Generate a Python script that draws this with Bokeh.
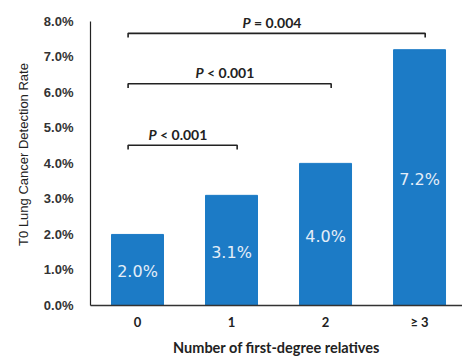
from bokeh.plotting import figure
from bokeh.models import Range1d, FixedTicker, NumeralTickFormatter, ColumnDataSource
from bokeh.core.properties import value
from bokeh.embed import file_html
from bokeh.resources import INLINE

# data
categories = ["0", "1", "2", "≥ 3"]
rates = [0.020, 0.031, 0.040, 0.072]
rate_labels = ["2.0%", "3.1%", "4.0%", "7.2%"]
y_ticks = [0.0, 0.01, 0.02, 0.03, 0.04, 0.05, 0.06, 0.07, 0.08]

# comparisons (from group index, to group index, bracket level, label)
cmp_from = [0, 0, 0]
cmp_to = [3, 2, 1]
cmp_level = [0.0766, 0.0624, 0.0451]
cmp_rest = ["\u00a0=\u00a00.004", "\u00a0<\u00a00.001", "\u00a0<\u00a00.001"]

xs = list(range(len(categories)))

p = figure(width=462, height=358, output_backend="svg", toolbar_location=None,
           x_range=Range1d(-0.5, 3.457), y_range=Range1d(0, 0.085),
           min_border_left=90, min_border_right=0, min_border_top=3,
           min_border_bottom=53)
p.outline_line_color = None
p.xgrid.grid_line_color = None
p.ygrid.grid_line_color = None
p.background_fill_color = "white"

bar_color = "#1c7bc6"
src = ColumnDataSource(dict(x=xs, top=rates, mid=[r / 2 for r in rates], lab=rate_labels))
p.vbar(x="x", top="top", width=0.553, source=src, fill_color=bar_color, line_color=bar_color)
p.text(x="x", y="mid", text="lab", source=src, text_align="center", text_baseline="middle",
       text_color="#e4eef8", text_font=value("DejaVu Sans"), text_font_size="16px", y_offset=2)

# brackets
tick_len = 0.0012
bx, by = [], []
for f, t, lv in zip(cmp_from, cmp_to, cmp_level):
    x0 = f - 0.1
    x1 = t + 0.06
    bx.append([x0, x0, x1, x1])
    by.append([lv - tick_len, lv, lv, lv - tick_len])
p.multi_line(bx, by, line_color="#222222", line_width=1.6)

cx = [((f - 0.1) + (t + 0.06)) / 2 for f, t in zip(cmp_from, cmp_to)]
ly = [lv + 0.0031 for lv in cmp_level]
lsrc = ColumnDataSource(dict(x=cx, y=ly, rest=cmp_rest, P=["P"] * len(cx)))
p.text(x="x", y="y", text="rest", source=lsrc, text_align="left", text_baseline="middle",
       x_offset=-26, text_color="#222222", text_font=value("Lato"), text_font_size="14px",
       text_font_style="bold")
p.text(x="x", y="y", text="P", source=lsrc, text_align="right", text_baseline="middle",
       x_offset=-26, text_color="#222222", text_font=value("Lato"), text_font_size="14px",
       text_font_style="bold italic")

# axes
p.xaxis.ticker = FixedTicker(ticks=xs)
p.xaxis.major_label_overrides = {i: c for i, c in enumerate(categories)}
p.xaxis.major_tick_line_color = None
p.xaxis.minor_tick_line_color = None
p.xaxis.major_tick_out = 0
p.xaxis.axis_line_color = "#333333"
p.xaxis.axis_line_width = 1.5
p.xaxis.major_label_standoff = 8
p.xaxis.major_label_text_font = "Lato"
p.xaxis.major_label_text_font_style = "bold"
p.xaxis.major_label_text_font_size = "13px"
p.xaxis.major_label_text_color = "#222222"
p.xaxis.axis_label = "Number of first-degree relatives"
p.xaxis.axis_label_text_font = "Lato"
p.xaxis.axis_label_text_font_style = "bold"
p.xaxis.axis_label_text_font_size = "14.5px"
p.xaxis.axis_label_text_color = "#222222"
p.xaxis.axis_label_standoff = 6

p.yaxis.ticker = FixedTicker(ticks=y_ticks)
p.yaxis.formatter = NumeralTickFormatter(format="0.0%")
p.yaxis.bounds = (0, 0.08)
p.yaxis.major_tick_line_color = None
p.yaxis.minor_tick_line_color = None
p.yaxis.major_tick_out = 0
p.yaxis.axis_line_color = "#222222"
p.yaxis.axis_line_width = 1.2
p.yaxis.major_label_standoff = 17
p.yaxis.major_label_text_font = "Liberation Sans"
p.yaxis.major_label_text_font_style = "bold"
p.yaxis.major_label_text_font_size = "13px"
p.yaxis.major_label_text_color = "#333333"
p.yaxis.axis_label = "T0 Lung Cancer Detection Rate"
p.yaxis.axis_label_text_font = "Liberation Sans"
p.yaxis.axis_label_text_font_style = "normal"
p.yaxis.axis_label_text_font_size = "13px"
p.yaxis.axis_label_text_color = "#222222"
p.yaxis.axis_label_standoff = 10

open("out.html", "w").write(file_html(p, INLINE))
